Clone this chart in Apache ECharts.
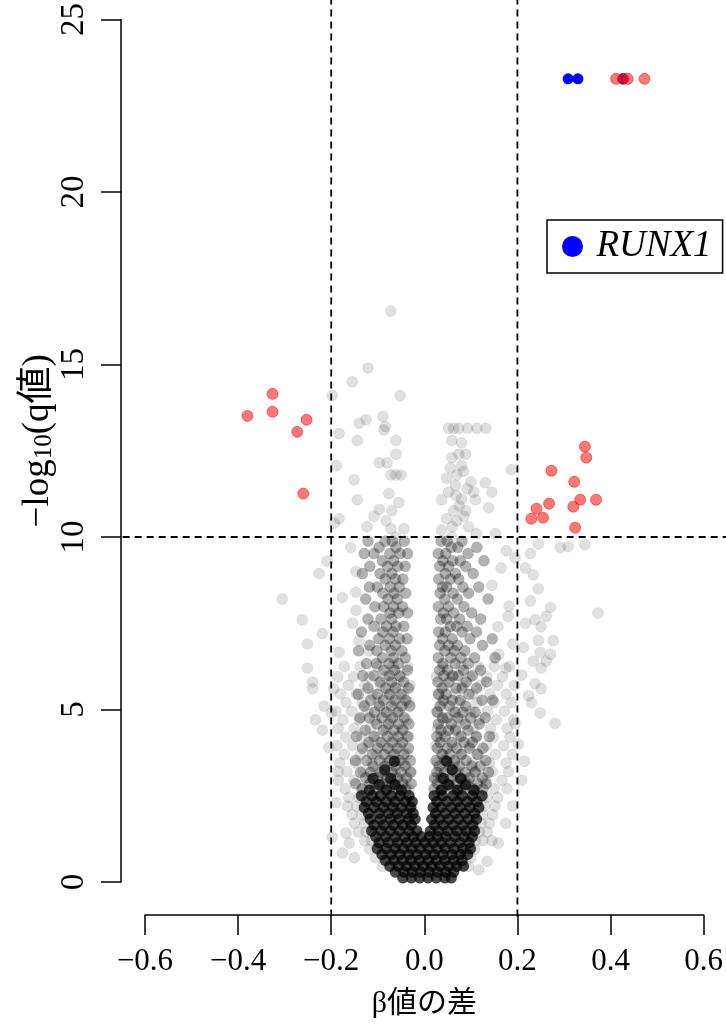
<!DOCTYPE html>
<html>
<head>
<meta charset="utf-8">
<script src="https://cdn.jsdelivr.net/npm/echarts@6/dist/echarts.min.js"></script>
<style>
  html, body { margin: 0; padding: 0; background: #fff; }
  #chart { width: 726px; height: 1025px; }
</style>
</head>
<body>
<div id="chart"></div>
<script>
// Volcano plot: difference in beta value (x) vs -log10(q value) (y)

// Axis ticks
const xTicks = [-0.6, -0.4, -0.2, 0.0, 0.2, 0.4, 0.6];
const yTicks = [0, 5, 10, 15, 20, 25];

// Threshold guide lines
const cutX = [-0.2, 0.2];
const cutY = [10];

// Significant CpGs
const redPts = [
  [-0.380, 13.51], [-0.326, 14.15], [-0.326, 13.63], [-0.253, 13.40], [-0.273, 13.05], [-0.260, 11.26],
  [0.345, 12.62], [0.348, 12.30], [0.273, 11.92], [0.322, 11.60], [0.335, 11.08], [0.369, 11.08],
  [0.320, 10.88], [0.268, 10.97], [0.241, 10.82], [0.230, 10.53], [0.255, 10.56], [0.324, 10.27],
  [0.412, 23.28], [0.427, 23.28], [0.437, 23.28], [0.473, 23.28]
];

// RUNX1 CpGs
const runx1Pts = [[0.309, 23.28], [0.330, 23.28], [0.427, 23.28]];

// Scattered non-significant CpGs
const outerPts = [
  [-0.072, 16.55], [-0.121, 14.9], [-0.155, 14.5], [-0.198, 14.1], [-0.052, 14.1], [-0.089, 13.5],
  [-0.125, 13.4], [-0.140, 13.3], [-0.084, 13.2], [-0.183, 13.0], [-0.087, 13.1], [-0.061, 12.8],
  [-0.144, 12.8], [-0.061, 12.4], [-0.097, 12.15], [-0.080, 12.15], [-0.189, 12.07], [-0.072, 11.8],
  [-0.061, 11.8], [-0.050, 11.8], [-0.151, 11.66], [-0.076, 11.26], [-0.144, 11.08], [-0.055, 11.0],
  [-0.097, 10.8], [-0.108, 10.6], [-0.070, 10.76], [-0.183, 10.53], [-0.082, 10.47], [-0.193, 10.4],
  [-0.123, 10.3], [-0.044, 10.24], [-0.072, 10.24], [-0.061, 10.0],
  [0.052, 13.15], [0.063, 13.15], [0.074, 13.15], [0.093, 13.15], [0.113, 13.15], [0.132, 13.15],
  [0.059, 12.8], [0.080, 12.73], [0.074, 12.4], [0.089, 12.4], [0.059, 12.3], [0.080, 12.07],
  [0.084, 11.9], [0.070, 11.8], [0.048, 11.7], [0.100, 11.6], [0.131, 11.57], [0.067, 11.5],
  [0.106, 11.3], [0.145, 11.3], [0.052, 11.3], [0.080, 11.1], [0.110, 11.08], [0.037, 11.08],
  [0.063, 10.76], [0.089, 10.76], [0.138, 10.85], [0.048, 10.53], [0.070, 10.47], [0.095, 10.3],
  [0.037, 10.2], [0.153, 10.1], [0.112, 10.1], [0.187, 11.95], [0.059, 10.0],
  [0.056, 12.0], [0.068, 11.2], [0.085, 10.6], [0.060, 10.3], [0.075, 10.9], [0.092, 11.4],
  [0.176, 9.6], [0.228, 9.52], [0.245, 9.8], [0.292, 9.7], [0.309, 9.72], [0.345, 9.78],
  [0.373, 7.8], [0.217, 9.1], [0.234, 8.9], [0.245, 8.5], [0.228, 8.15], [0.238, 7.6],
  [0.271, 7.96], [0.262, 7.7], [0.217, 7.5], [0.251, 7.4], [0.277, 7.0], [0.245, 7.0],
  [0.213, 6.8], [0.271, 6.6], [0.249, 6.65], [0.234, 6.4], [0.262, 6.4], [0.251, 6.2],
  [0.209, 6.0], [0.238, 5.75], [0.251, 5.6], [0.224, 5.4], [0.230, 5.2], [0.249, 4.9], [0.281, 4.6],
  [-0.305, 8.2], [-0.262, 7.6], [-0.226, 8.94], [-0.209, 9.3], [-0.219, 7.2], [-0.251, 6.9],
  [-0.251, 6.2], [-0.240, 5.8], [-0.240, 5.6], [-0.215, 5.1], [-0.234, 4.7], [-0.219, 4.4],
  [-0.183, 6.66], [-0.176, 8.25], [-0.147, 8.4], [-0.147, 9.0], [-0.158, 9.7], [-0.147, 7.87],
  [-0.154, 7.5], [-0.140, 7.0], [-0.119, 6.7], [0.165, 9.1], [0.182, 8.0], [0.158, 7.4],
  [0.19, 6.9], [0.175, 6.2], [0.195, 9.4], [0.18, 7.7], [0.145, 8.6], [0.16, 6.6],
  [-0.168, 1.42], [-0.176, 0.84], [-0.161, 1.13], [-0.198, 1.3], [0.159, 1.13], [0.145, 1.2],
  [0.117, 0.35], [0.202, 4.0], [0.209, 2.95], [-0.19, 2.3], [-0.185, 3.2], [0.19, 2.2],
  [0.175, 1.7], [-0.15, 0.7], [0.135, 0.6], [-0.205, 3.9], [0.215, 3.5], [0.195, 4.6],
  [-0.2, 4.9], [-0.195, 5.6]
];

// Broad cloud below the threshold, one row per -log10(q) level: [y, [x...]]
const midRows = [
  [6.25, [-0.172, -0.138, -0.1, -0.067, -0.036, 0.04, 0.079, 0.116, 0.15, 0.183]],
  [5.95, [-0.186, -0.152, -0.118, -0.084, -0.05, 0.026, 0.061, 0.098, 0.134, 0.168]],
  [5.7, [-0.163, -0.128, -0.094, -0.06, -0.031, 0.044, 0.083, 0.121, 0.157, 0.194]],
  [5.45, [-0.18, -0.146, -0.112, -0.078, -0.044, 0.03, 0.066, 0.104, 0.141, 0.176]],
  [5.2, [-0.168, -0.133, -0.099, -0.065, -0.033, 0.038, 0.076, 0.113, 0.15, 0.187]],
  [4.95, [-0.19, -0.156, -0.121, -0.087, -0.054, 0.027, 0.062, 0.099, 0.136, 0.172]],
  [4.7, [-0.175, -0.14, -0.106, -0.072, -0.038, 0.041, 0.08, 0.118, 0.155, 0.192]],
  [4.45, [-0.185, -0.151, -0.116, -0.082, -0.048, 0.029, 0.067, 0.105, 0.142, 0.178]],
  [4.2, [-0.169, -0.134, -0.1, -0.066, -0.033, 0.036, 0.074, 0.111, 0.148, 0.184]],
  [3.95, [-0.188, -0.154, -0.119, -0.085, -0.051, 0.024, 0.06, 0.097, 0.134, 0.17]],
  [3.7, [-0.172, -0.137, -0.103, -0.069, -0.036, 0.04, 0.078, 0.116, 0.153, 0.189]],
  [3.45, [-0.182, -0.148, -0.113, -0.079, -0.045, 0.028, 0.065, 0.103, 0.14, 0.176]],
  [3.2, [-0.166, -0.131, -0.097, -0.063, -0.03, 0.034, 0.072, 0.109, 0.146, 0.181]],
  [2.95, [-0.185, -0.151, -0.116, -0.082, -0.048, 0.022, 0.058, 0.095, 0.132, 0.167]],
  [2.7, [-0.17, -0.135, -0.1, -0.066, -0.033, 0.038, 0.076, 0.113, 0.15, 0.178]],
  [2.45, [-0.162, -0.14, 0.135, 0.158]],
  [2.2, [-0.165, -0.145, 0.13, 0.152]],
  [1.95, [-0.155, -0.135, 0.125, 0.147]],
  [1.7, [-0.15, -0.128, 0.122, 0.14]],
  [1.45, [-0.142, -0.125, 0.118, 0.135]],
  [1.2, [-0.128, -0.113, 0.11, 0.126]],
  [0.95, [-0.118, 0.108]],
  [0.7, [-0.105, 0.1]],
  [0.45, [-0.09, 0.095]]
];

// Two vertical bands of CpGs either side of zero
const bandRows = [
  [9.88, [-0.121, -0.084, -0.069, -0.043, 0.036, 0.049, 0.081]],
  [9.7, [-0.097, -0.061, 0.058, 0.072, 0.113]],
  [9.52, [-0.129, -0.108, -0.074, -0.052, -0.036, 0.03, 0.046, 0.094]],
  [9.31, [-0.09, -0.066, 0.04, 0.061, 0.077, 0.128]],
  [9.15, [-0.117, -0.079, -0.057, -0.041, 0.033, 0.052, 0.089]],
  [8.94, [-0.133, -0.095, -0.07, 0.045, 0.067, 0.105]],
  [8.78, [-0.084, -0.062, -0.046, 0.031, 0.056, 0.074]],
  [8.55, [-0.118, -0.101, -0.073, -0.054, 0.039, 0.048, 0.083, 0.117]],
  [8.37, [-0.089, -0.065, -0.04, 0.034, 0.062, 0.095]],
  [8.2, [-0.126, -0.078, -0.058, 0.044, 0.071, 0.137]],
  [7.98, [-0.106, -0.087, -0.066, -0.047, 0.03, 0.052, 0.085]],
  [7.8, [-0.074, -0.055, -0.036, 0.041, 0.063, 0.102]],
  [7.62, [-0.121, -0.093, -0.07, 0.035, 0.048, 0.076, 0.121]],
  [7.41, [-0.108, -0.081, -0.061, -0.044, 0.056, 0.069, 0.092]],
  [7.25, [-0.135, -0.089, -0.067, 0.031, 0.045, 0.081, 0.112]],
  [7.05, [-0.098, -0.075, -0.053, -0.037, 0.039, 0.06, 0.098, 0.146]],
  [6.86, [-0.117, -0.084, -0.062, 0.033, 0.052, 0.071, 0.125]],
  [6.7, [-0.141, -0.102, -0.071, -0.048, 0.044, 0.064, 0.087]],
  [6.5, [-0.09, -0.066, -0.041, 0.03, 0.057, 0.079, 0.108, 0.152]],
  [6.33, [-0.124, -0.103, -0.076, -0.056, 0.04, 0.066, 0.094]],
  [6.14, [-0.087, -0.064, -0.036, 0.033, 0.05, 0.084, 0.121]],
  [5.98, [-0.132, -0.108, -0.075, -0.053, 0.042, 0.061, 0.073, 0.103]],
  [5.8, [-0.095, -0.07, -0.044, 0.029, 0.053, 0.09, 0.134]],
  [5.62, [-0.121, -0.083, -0.062, -0.034, 0.038, 0.068, 0.081, 0.112]],
  [5.44, [-0.142, -0.101, -0.074, -0.05, 0.031, 0.047, 0.096]],
  [5.27, [-0.115, -0.088, -0.063, -0.04, 0.041, 0.06, 0.077, 0.124, 0.147]],
  [5.1, [-0.129, -0.096, -0.071, -0.048, -0.031, 0.034, 0.054, 0.089]],
  [4.92, [-0.107, -0.081, -0.057, 0.028, 0.066, 0.083, 0.109]],
  [4.76, [-0.138, -0.118, -0.091, -0.068, -0.043, 0.039, 0.049, 0.072, 0.1, 0.131]],
  [4.58, [-0.102, -0.077, -0.055, -0.033, 0.03, 0.058, 0.088, 0.118]],
  [4.4, [-0.127, -0.088, -0.065, -0.046, 0.036, 0.052, 0.067, 0.094]],
  [4.22, [-0.146, -0.108, -0.079, -0.056, -0.036, 0.027, 0.045, 0.079, 0.112, 0.14]],
  [4.05, [-0.119, -0.093, -0.069, -0.047, 0.034, 0.059, 0.085, 0.103]],
  [3.88, [-0.133, -0.1, -0.078, -0.058, -0.034, 0.028, 0.049, 0.07, 0.097, 0.126]],
  [3.7, [-0.112, -0.087, -0.065, -0.044, 0.038, 0.055, 0.08, 0.114]],
  [3.52, [-0.148, -0.124, -0.096, -0.074, -0.053, -0.03, 0.025, 0.044, 0.065, 0.09, 0.132]],
  [3.36, [-0.11, -0.085, -0.063, -0.041, 0.032, 0.054, 0.076, 0.102, 0.12]],
  [3.18, [-0.137, -0.116, -0.093, -0.07, -0.05, -0.029, 0.027, 0.043, 0.067, 0.088, 0.109, 0.138]],
  [3.02, [-0.126, -0.101, -0.08, -0.058, -0.038, 0.022, 0.036, 0.058, 0.079, 0.097, 0.125]],
  [2.85, [-0.148, -0.117, -0.09, -0.068, -0.047, -0.028, 0.028, 0.049, 0.07, 0.091, 0.114, 0.133]],
  [2.7, [-0.133, -0.106, -0.081, -0.059, -0.04, 0.021, 0.039, 0.06, 0.083, 0.104, 0.126]]
];

// Densely packed CpGs near zero
const coreRows = [
  [3.5, [-0.064, 0.048]],
  [3.25, [-0.085, 0.06]],
  [3.0, [-0.11, -0.072, 0.041, 0.078]],
  [2.82, [-0.097, -0.063, 0.052, 0.088]],
  [2.66, [-0.118, -0.082, -0.049, 0.036, 0.071, 0.107]],
  [2.5, [-0.135, -0.112, -0.094, -0.071, -0.052, -0.033, 0.021, 0.039, 0.062, 0.081, 0.103, 0.124]],
  [2.33, [-0.124, -0.103, -0.082, -0.063, -0.041, -0.026, 0.027, 0.049, 0.071, 0.092, 0.113]],
  [2.16, [-0.129, -0.108, -0.088, -0.068, -0.049, -0.029, 0.019, 0.036, 0.058, 0.077, 0.098, 0.117]],
  [1.99, [-0.12, -0.097, -0.077, -0.058, -0.038, -0.024, 0.024, 0.045, 0.066, 0.087, 0.108]],
  [1.82, [-0.116, -0.094, -0.073, -0.054, -0.034, -0.02, 0.016, 0.033, 0.053, 0.074, 0.095, 0.112]],
  [1.65, [-0.108, -0.087, -0.066, -0.046, -0.028, 0.022, 0.041, 0.062, 0.083, 0.104]],
  [1.48, [-0.113, -0.093, -0.073, -0.053, -0.033, -0.016, 0.013, 0.03, 0.05, 0.07, 0.09, 0.108]],
  [1.31, [-0.104, -0.083, -0.062, -0.042, -0.024, -0.006, 0.011, 0.028, 0.046, 0.066, 0.086, 0.103]],
  [1.14, [-0.097, -0.077, -0.057, -0.037, -0.018, 0.001, 0.019, 0.037, 0.056, 0.076, 0.096]],
  [0.97, [-0.101, -0.082, -0.063, -0.045, -0.027, -0.009, 0.009, 0.027, 0.045, 0.064, 0.083, 0.099]],
  [0.8, [-0.091, -0.072, -0.053, -0.034, -0.016, 0.003, 0.021, 0.04, 0.059, 0.078, 0.093]],
  [0.63, [-0.084, -0.065, -0.046, -0.028, -0.01, 0.008, 0.026, 0.044, 0.063, 0.081]],
  [0.46, [-0.074, -0.056, -0.038, -0.02, -0.002, 0.016, 0.034, 0.052, 0.07, 0.084]],
  [0.29, [-0.062, -0.044, -0.026, -0.008, 0.01, 0.028, 0.046, 0.063]],
  [0.12, [-0.046, -0.028, -0.01, 0.008, 0.026, 0.044, 0.058]]
];

const rowsToPts = rows => rows.flatMap(([y, xs]) => xs.map(x => [x, y]));

// Plot-region extent beyond the tick range (guide lines run to its edges)
const X_EXT = [-0.648, 0.648];
const Y_EXT = [-1, 26];

const SERIF = "'Liberation Serif', 'Times New Roman', 'Noto Sans CJK JP', serif";
const fmtX = v => Math.abs(v) < 1e-9 ? '0.0' : (v < 0 ? '\u2212' : '') + Math.abs(v).toFixed(1);

const dot = (fill, stroke) => ({ color: fill, borderColor: stroke, borderWidth: 0.8, opacity: 1 });
const guideStyle = { stroke: '#000', lineWidth: 1.8, lineDash: [7, 5] };

const chart = echarts.init(document.getElementById('chart'), null, { renderer: 'canvas' });
chart.setOption({
  animation: false,
  backgroundColor: '#fff',
  grid: { left: 145, right: 20, top: 18, bottom: 143, containLabel: false },
  legend: {
    data: ['RUNX1'],
    left: 547, top: 220,
    icon: 'circle',
    itemWidth: 38, itemHeight: 21,
    padding: [8, 11, 8, 15],
    borderColor: '#000', borderWidth: 1.5, backgroundColor: '#fff',
    selectedMode: false,
    textStyle: { fontFamily: SERIF, fontStyle: 'italic', fontSize: 37, color: '#000' }
  },
  xAxis: {
    type: 'value', min: xTicks[0], max: xTicks[xTicks.length - 1], interval: 0.2,
    offset: 33,
    axisLine: { show: true, onZero: false, lineStyle: { color: '#000', width: 1.5 } },
    axisTick: { show: true, length: 20, lineStyle: { color: '#000', width: 1.5 } },
    axisLabel: { margin: 31, formatter: fmtX, fontFamily: SERIF, fontSize: 31, color: '#000', showMinLabel: true, showMaxLabel: true },
    splitLine: { show: false },
    name: '\u03b2値の差', nameLocation: 'middle', nameGap: 74,
    nameTextStyle: { fontFamily: SERIF, fontSize: 30, color: '#000' }
  },
  yAxis: {
    type: 'value', min: yTicks[0], max: yTicks[yTicks.length - 1], interval: 5,
    offset: 24,
    axisLine: { show: true, onZero: false, lineStyle: { color: '#000', width: 1.5 } },
    axisTick: { show: true, length: 20, lineStyle: { color: '#000', width: 1.5 } },
    axisLabel: { rotate: 90, margin: 30, fontFamily: SERIF, fontSize: 33, color: '#000' },
    splitLine: { show: false },
    name: '{a|\u2212log}{s|10}{a|(q値)}', nameLocation: 'middle', nameRotate: 90, nameGap: 64,
    nameMoveOverlap: false,
    nameTextStyle: {
      color: '#000',
      padding: [0, 0, 0, 20],
      rich: {
        a: { fontFamily: SERIF, fontSize: 37, color: '#000', verticalAlign: 'bottom', lineHeight: 40 },
        s: { fontFamily: SERIF, fontSize: 25, color: '#000', verticalAlign: 'bottom', lineHeight: 20 }
      }
    }
  },
  series: [
    { name: 'outer', type: 'scatter', symbolSize: 11, data: outerPts.concat(rowsToPts(midRows)),
      itemStyle: dot('rgba(0,0,0,0.12)', 'rgba(0,0,0,0.08)'), z: 2 },
    { name: 'band', type: 'scatter', symbolSize: 11, data: rowsToPts(bandRows),
      itemStyle: dot('rgba(0,0,0,0.3)', 'rgba(0,0,0,0.14)'), z: 2 },
    { name: 'core', type: 'scatter', symbolSize: 11, data: rowsToPts(coreRows),
      itemStyle: dot('rgba(0,0,0,0.72)', 'rgba(0,0,0,0.3)'), z: 2 },
    { name: 'RUNX1', type: 'scatter', symbolSize: 11, data: runx1Pts,
      itemStyle: { color: '#0000ff', opacity: 1 }, z: 3 },
    { name: 'sig', type: 'scatter', symbolSize: 11, data: redPts,
      itemStyle: dot('rgba(255,20,20,0.58)', 'rgba(225,0,0,0.6)'), z: 4 },
    { name: 'cutX', type: 'custom', coordinateSystem: 'cartesian2d', clip: false, z: 5,
      data: cutX.map(v => [v, 0]),
      renderItem: (params, api) => {
        const x = api.value(0);
        const a = api.coord([x, Y_EXT[0]]), b = api.coord([x, Y_EXT[1]]);
        return { type: 'line', shape: { x1: a[0], y1: a[1], x2: b[0], y2: b[1] }, style: guideStyle };
      } },
    { name: 'cutY', type: 'custom', coordinateSystem: 'cartesian2d', clip: false, z: 5,
      data: cutY.map(v => [0, v]),
      renderItem: (params, api) => {
        const y = api.value(1);
        const a = api.coord([X_EXT[0], y]), b = api.coord([X_EXT[1], y]);
        return { type: 'line', shape: { x1: a[0], y1: a[1], x2: b[0], y2: b[1] }, style: guideStyle };
      } }
  ]
});
</script>
</body>
</html>
